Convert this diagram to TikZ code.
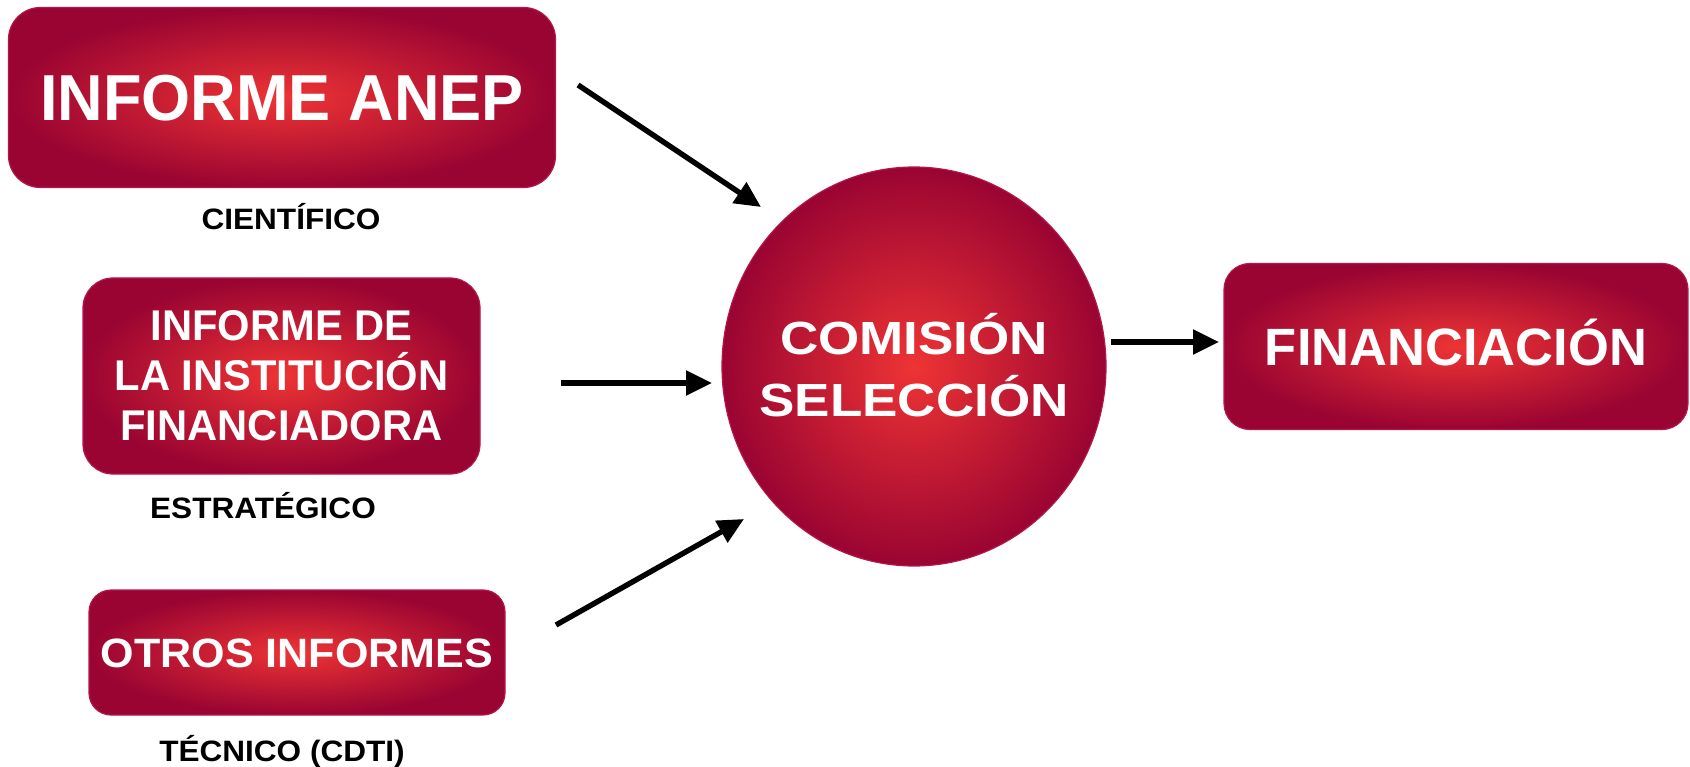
\documentclass[tikz,border=0pt]{standalone}
\usepackage{fontspec}
\setmainfont{Liberation Sans}
\newfontfamily\anepfont{Liberation Sans}[FakeStretch=0.97]
\newfontfamily\wideafont{Liberation Sans}[FakeStretch=1.05]
\newfontfamily\labelfont{Liberation Sans}[FakeStretch=1.07]
\newfontfamily\comfont{Liberation Sans}[FakeStretch=1.14]
\usetikzlibrary{arrows.meta,shapes.geometric}
\definecolor{inred}{HTML}{EE3434}
\definecolor{outred}{HTML}{9A0432}
\definecolor{rim}{HTML}{B3174A}
\tikzset{
  redbox/.style={rectangle, shading=radial, inner color=inred, outer color=outred,
    draw=rim, line width=1.2pt, text=white, align=center, inner sep=0pt},
  redoval/.style={ellipse, shading=radial, inner color=inred, outer color=outred,
    draw=rim, line width=1.2pt, inner sep=0pt},
  whitetext/.style={text=white, align=center, inner sep=0pt},
  tag/.style={anchor=base, text=black, font=\labelfont\bfseries\fontsize{29.5}{36}\selectfont, inner sep=0pt},
  flow/.style={line width=5.4pt, -{Triangle[length=26pt,width=24pt]}}
}
\begin{document}
\begin{tikzpicture}[x=1pt,y=-1pt]
\useasboundingbox (0,0) rectangle (1690,767);
\node[redbox, rounded corners=32pt, minimum width=547pt, minimum height=180pt,
  text height=46.5pt, text depth=0pt,
  font=\anepfont\bfseries\fontsize{65}{78}\selectfont] (anep) at (282,97.5) {INFORME ANEP};
\node[tag] (cient) at (291,230) {CIENTÍFICO};
\node[redbox, rounded corners=30pt, minimum width=397pt, minimum height=196pt,
  font=\anepfont\bfseries\fontsize{43}{50}\selectfont] (inst) at (281.5,376) {INFORME DE\\LA INSTITUCIÓN\\FINANCIADORA};
\node[tag] (estr) at (263,518) {ESTRATÉGICO};
\node[redbox, rounded corners=22pt, minimum width=416pt, minimum height=125pt,
  text height=29.4pt, text depth=0pt,
  font=\wideafont\bfseries\fontsize{41}{50}\selectfont] (otros) at (297,652.5) {OTROS INFORMES};
\node[tag] (tecn) at (282,761) {TÉCNICO (CDTI)};
\node[redoval, minimum width=384pt, minimum height=399pt] (com) at (914,366.5) {};
\node[whitetext, font=\comfont\bfseries\fontsize{46.5}{62.5}\selectfont] (comtext) at (914,365) {COMISIÓN\\SELECCIÓN};
\node[redbox, rounded corners=26pt, minimum width=464pt, minimum height=166pt,
  text height=37.4pt, text depth=0pt,
  font=\bfseries\fontsize{52.5}{64}\selectfont] (fin) at (1456,346.5) {FINANCIACIÓN};
\coordinate (a1s) at (578,85);
\coordinate (a1e) at (761,207);
\coordinate (a2s) at (561,383);
\coordinate (a2e) at (712,383);
\coordinate (a3s) at (556,625);
\coordinate (a3e) at (744,519);
\coordinate (a4s) at (1111,342);
\coordinate (a4e) at (1219,342);
\draw[flow] (a1s) -- (a1e);
\draw[flow] (a2s) -- (a2e);
\draw[flow] (a3s) -- (a3e);
\draw[flow] (a4s) -- (a4e);
\end{tikzpicture}
\end{document}
